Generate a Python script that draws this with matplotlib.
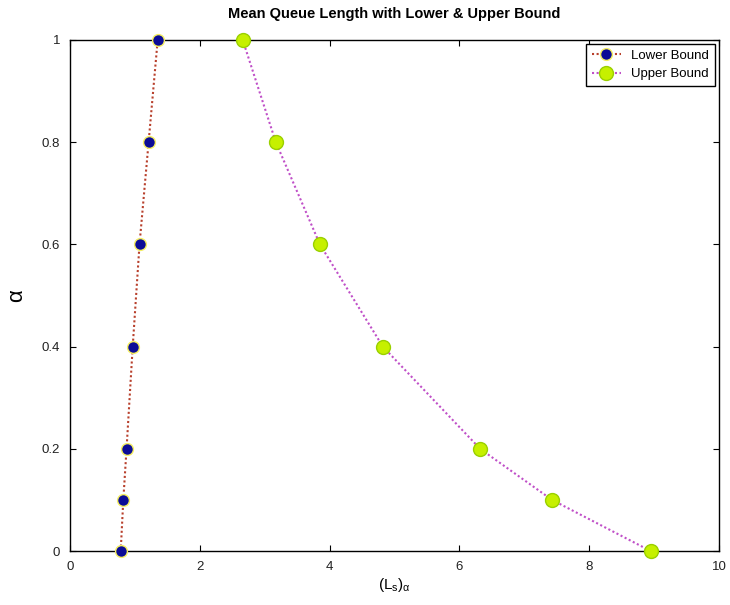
import matplotlib
matplotlib.use("Agg")
import matplotlib.pyplot as plt

plt.rcParams['font.family'] = ['Liberation Sans', 'DejaVu Sans']
plt.rcParams['mathtext.fontset'] = 'custom'
plt.rcParams['mathtext.rm'] = 'Liberation Sans'
plt.rcParams['mathtext.it'] = 'Liberation Sans'

alpha = [0, 0.1, 0.2, 0.4, 0.6, 0.8, 1.0]
lower = [0.78, 0.82, 0.87, 0.965, 1.07, 1.21, 1.35]
upper = [8.95, 7.43, 6.32, 4.82, 3.85, 3.17, 2.66]

fig = plt.figure(figsize=(7.30, 6.05), dpi=100)
ax = fig.add_axes([0.096, 0.089, 0.889, 0.845])

ax.plot(lower, alpha, linestyle=(0, (1, 1.2)), color='#b8402c', linewidth=1.5,
        marker='o', markersize=8.5, markerfacecolor='#0c0c96',
        markeredgecolor='#f4ee60', markeredgewidth=1.0, label='Lower Bound',
        clip_on=False, zorder=3)
ax.plot(upper, alpha, linestyle=(0, (1, 1.2)), color='#c050c8', linewidth=1.5,
        marker='o', markersize=10, markerfacecolor='#c6f000',
        markeredgecolor='#9ad000', markeredgewidth=1.0, label='Upper Bound',
        clip_on=False, zorder=3)

ax.set_xlim(0, 10)
ax.set_ylim(0, 1)
ax.set_xticks([0, 2, 4, 6, 8, 10])
ax.set_yticks([0, 0.2, 0.4, 0.6, 0.8, 1])
ax.set_yticklabels(['0', '0.2', '0.4', '0.6', '0.8', '1'])
ax.tick_params(direction='in', top=True, right=True, length=4, labelsize=9.5,
               pad=7, labelcolor='#222222')
for s in ax.spines.values():
    s.set_linewidth(1.0)

ax.set_title('Mean Queue Length with Lower & Upper Bound', fontsize=10.5,
             fontweight='bold', pad=16)
ax.set_xlabel(r'$(L_s)_\alpha$', fontsize=11, labelpad=2)
ax.set_ylabel(r'$\alpha$', fontsize=16, labelpad=10)

leg = ax.legend(loc='upper right', fontsize=9.5, frameon=True, fancybox=False,
                edgecolor='black', borderaxespad=0.3, handlelength=2.2,
                borderpad=0.45, labelspacing=0.45, framealpha=1)
leg.get_frame().set_linewidth(1.0)

fig.savefig('out.png', dpi=100, facecolor='white')
